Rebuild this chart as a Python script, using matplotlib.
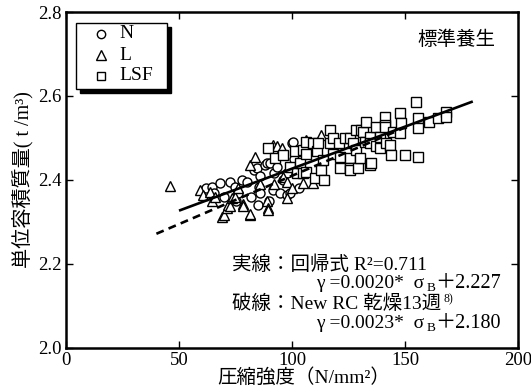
import matplotlib
matplotlib.use("Agg")
import matplotlib.pyplot as plt
from matplotlib.patches import Rectangle
from matplotlib.lines import Line2D
import numpy as np

FAM = ['Liberation Serif', 'Noto Sans CJK JP']
plt.rcParams['font.family'] = FAM

# ---- data ----
n_x = [62, 64.6, 65.3, 68.3, 70, 72.7, 74.9, 75, 76, 78, 80, 82, 83, 84.4, 85, 85.2, 85.9, 86, 88, 88.8,
       90, 90.3, 91.6, 92, 93.2, 94.7, 96, 97.6, 98, 99.1, 99.9, 100.5, 101, 103, 105]
n_y = [2.38, 2.384, 2.37, 2.392, 2.36, 2.396, 2.384, 2.35, 2.37, 2.40, 2.396, 2.36, 2.424, 2.428, 2.34, 2.384, 2.37, 2.41, 2.436, 2.44,
       2.35, 2.44, 2.376, 2.417, 2.432, 2.369, 2.40, 2.416, 2.364, 2.368, 2.487, 2.491, 2.45, 2.38, 2.47]

l_x = [45.8, 59.2, 60.8, 63.9, 64.6, 66, 69, 69.7, 71.2, 71.9, 72.7, 73.4, 74.9, 76, 78.5, 78.5, 81.5, 81.5,
       81.5, 83.7, 86, 88.8, 89.6, 89.6, 91.8, 92, 93.2, 95.4, 96, 97.6, 97.6, 100, 105, 106.4, 109.4, 113]
l_y = [2.386, 2.376, 2.364, 2.372, 2.349, 2.36, 2.313, 2.317, 2.333, 2.34, 2.337, 2.356, 2.36, 2.38, 2.344, 2.337, 2.317, 2.32,
       2.436, 2.455, 2.39, 2.349, 2.333, 2.329, 2.483, 2.39, 2.48, 2.475, 2.408, 2.356, 2.396, 2.38, 2.392, 2.495, 2.392, 2.507]

lsf_x = [89.6, 92.5, 96, 99, 101.3, 102, 103.5, 105, 105, 106.4, 106.4, 106.4, 109.4, 110, 110.9, 111.6, 113, 113.8,
         114, 116.7, 116.7, 118, 118.2, 121, 121.1, 121.1, 123.3, 125.6, 125.6, 125.6, 125.6, 127, 128.5, 128.5,
         129.2, 130, 130.7, 131.4, 132.2, 132.9, 134.4, 134.4, 134.4, 135.1, 137.3, 137.3, 138.8, 138.8, 141, 141,
         141, 141.7, 143.2, 143.9, 144.6, 147.6, 147.6, 148.3, 149.8, 154.9, 155.6, 155.6, 155.6, 160.8, 164.5,
         168.1, 168.1]
lsf_y = [2.475, 2.452, 2.46, 2.43, 2.468, 2.417, 2.44, 2.471, 2.416, 2.463, 2.491, 2.42, 2.487, 2.405, 2.468, 2.487, 2.424, 2.448,
         2.40, 2.519, 2.487, 2.50, 2.463, 2.487, 2.455, 2.428, 2.499, 2.499, 2.452, 2.428, 2.424, 2.487, 2.471, 2.519,
         2.428, 2.452, 2.519, 2.515, 2.491, 2.539, 2.503, 2.487, 2.436, 2.44, 2.527, 2.48, 2.475, 2.503, 2.551, 2.531,
         2.527, 2.487, 2.483, 2.46, 2.515, 2.559, 2.511, 2.535, 2.46, 2.586, 2.547, 2.523, 2.455, 2.539, 2.547,
         2.563, 2.551]

# regression lines
solid_a, solid_b, solid_range = 0.0020, 2.227, (50, 180)
dash_a, dash_b, dash_range = 0.0023, 2.180, (40, 150)

x_ticks = [0, 50, 100, 150, 200]
y_ticks = [2.0, 2.2, 2.4, 2.6, 2.8]
legend_labels = ['N', 'L', 'LSF']
legend_markers = ['o', '^', 's']

W, H = 531, 392
AX_L, AX_R, AX_T, AX_B = 66, 518, 12, 348
fig = plt.figure(figsize=(W / 100, H / 100), dpi=100)
ax = fig.add_axes([AX_L / W, 1 - AX_B / H, (AX_R - AX_L) / W, (AX_B - AX_T) / H])

mk = dict(linestyle='none', markerfacecolor='white', markeredgecolor='black', markeredgewidth=1.0)
msizes = {'o': 6.5, '^': 7, 's': 6.5}
ax.plot(n_x, n_y, marker='o', markersize=msizes['o'], **mk)
ax.plot(l_x, l_y, marker='^', markersize=msizes['^'], **mk)
ax.plot(lsf_x, lsf_y, marker='s', markersize=msizes['s'], **mk)

xs = np.array(solid_range)
ax.plot(xs, solid_a * xs + solid_b, color='black', lw=1.9, solid_capstyle='butt')
xd = np.array(dash_range)
ax.plot(xd, dash_a * xd + dash_b, color='black', lw=1.9, dashes=(3, 2))

ax.set_xlim(0, 200)
ax.set_ylim(2.0, 2.8)
ax.set_xticks(x_ticks)
ax.set_yticks(y_ticks)
ax.set_xticklabels([str(v) for v in x_ticks])
ax.set_yticklabels([f'{v:.1f}' for v in y_ticks])
ax.tick_params(direction='in', top=True, right=True, length=5, width=1.0, labelsize=13.5, pad=3)
for s in ax.spines.values():
    s.set_linewidth(1.8)

ax.set_xlabel('圧縮強度（N/mm²）', fontsize=14, labelpad=0)
ax.xaxis.set_label_coords((304 - AX_L) / (AX_R - AX_L), -(377 - AX_B) / (AX_B - AX_T))
ax.xaxis.label.set_va('center')
ax.set_ylabel('単位容積質量( t /m³)', fontsize=14.5, labelpad=3)

# ---- legend (drawn in axes coordinates) ----
def axf(px, py):
    return (px - AX_L) / (AX_R - AX_L), (AX_B - py) / (AX_B - AX_T)

bx0, by0 = axf(76, 89)
bx1, by1 = axf(167, 23)
sx, sy = axf(80, 93)
ax.add_patch(Rectangle((sx, sy), bx1 - bx0, by1 - by0, transform=ax.transAxes,
                       facecolor='black', edgecolor='black', lw=1, zorder=5, clip_on=False))
ax.add_patch(Rectangle((bx0, by0), bx1 - bx0, by1 - by0, transform=ax.transAxes,
                       facecolor='white', edgecolor='black', lw=1, zorder=6, clip_on=False))
for i, (lab, m) in enumerate(zip(legend_labels, legend_markers)):
    py = 34 + 21 * i
    mx, my = axf(101, py)
    ax.add_line(Line2D([mx], [my], marker=m, markersize=msizes[m] - 0.5, transform=ax.transAxes,
                       zorder=7, **mk))
    tx, ty = axf(119, py)
    ax.text(tx, ty, lab, transform=ax.transAxes, fontsize=14, ha='left', va='center', zorder=7)

def ft(px, py, s, size=14, ha='left', va='center', family=FAM):
    fig.text(px / W, 1 - py / H, s, fontsize=size, ha=ha, va=va, family=family)

ft(456, 40, '標準養生', size=14, ha='center')
ft(232, 265, '実線：回帰式 R²=0.711')
ft(424, 283, 'γ =0.0020*  σ', ha='right')
ft(427, 288, 'B', size=9.5)
ft(435, 283, '＋2.227', size=14.5)
ft(232, 304, '破線：New RC 乾燥13週')
ft(443, 299, '8)', size=8.5)
ft(424, 323, 'γ =0.0023*  σ', ha='right')
ft(427, 328, 'B', size=9.5)
ft(435, 323, '＋2.180', size=14.5)

fig.savefig('out.png', dpi=100)
